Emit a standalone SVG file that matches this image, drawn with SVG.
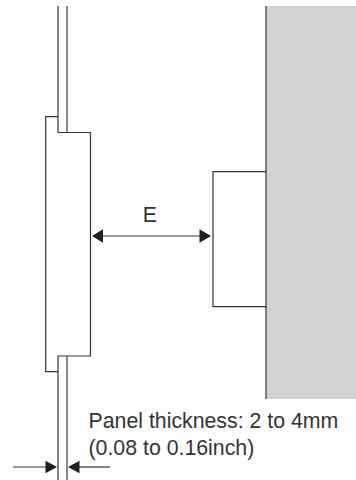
<svg xmlns="http://www.w3.org/2000/svg" width="356" height="480" viewBox="0 0 356 480">
<style>
.l{fill:none;stroke:#333436;stroke-width:1.2}
.g{fill:none;stroke:#6d6e70;stroke-width:1.6}
.d{stroke:#333436;stroke-width:1.2;fill:none}
.h{fill:#231f20}
text{font-family:"Liberation Sans",Arial,sans-serif;font-size:21.3px;fill:#333436}
</style>
<rect id="wall" x="266" y="6" width="90" height="393" fill="#d1d2d4"/>
<g id="panel">
<path class="l" d="M58 6V132.500H90.500V356H58V480M58 116.700H45.700V371.700H58"/>
<path class="g" d="M67 6V132.500M67 356V480"/>
</g>
<g id="block">
<path class="l" d="M266 171.700H213V306.700H266"/>
<path class="l" d="M266 6V399" stroke-width="1.4"/>
</g>
<g id="connectors">
<path class="d" d="M100 236H202"/>
<path class="h" d="M92 236L103 229.300V242.700Z"/>
<path class="h" d="M211 236L199.500 229.300V242.700Z"/>
<path class="d" d="M13 467H47"/>
<path class="h" d="M57 467L45.500 460.800V473.200Z"/>
<path class="d" d="M78 467H110"/>
<path class="h" d="M68 467L79.500 460.800V473.200Z"/>
</g>
<text id="label-e" x="142.800" y="222.300">E</text>
<text id="label-thickness" x="88.500" y="428">Panel thickness: 2 to 4mm</text>
<text id="label-inch" x="88.500" y="455">(0.08 to 0.16inch)</text>
</svg>
